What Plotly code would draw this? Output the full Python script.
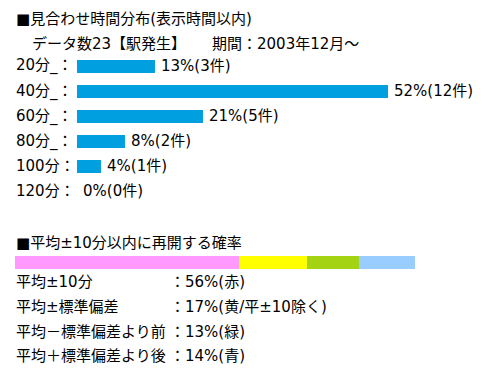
import plotly.graph_objects as go

W, H = 504, 380
OFF = 8  # page body margin
FONT = "DejaVu Sans, Noto Sans CJK JP, sans-serif"
FS = 15

# ---- data ----
title_top = "■見合わせ時間分布(表示時間以内)"
subtitle_a = "データ数23【駅発生】"
subtitle_b = "期間：2003年12月～"
categories = ["20分_：", "40分_：", "60分_：", "80分_：", "100分：", "120分："]
pct = [13, 52, 21, 8, 4, 0]
counts = [3, 12, 5, 2, 1, 0]

title_bottom = "■平均±10分以内に再開する確率"
prob_labels = ["平均±10分", "平均±標準偏差", "平均－標準偏差より前", "平均＋標準偏差より後"]
prob_values = [56, 17, 13, 14]
prob_notes = ["(赤)", "(黄/平±10除く)", "(緑)", "(青)"]
prob_colors = ["#FF99FF", "#FFFF00", "#A3D312", "#99CCFF"]
bar_color = "#00A0E0"


def px_x(p):
    return (p - OFF) / W


def px_y(p):
    return 1 - (p - OFF) / H


fig = go.Figure()

rows = list(range(len(categories)))
fig.add_trace(go.Bar(
    x=pct, y=rows, orientation="h", marker=dict(color=bar_color, line=dict(width=0)),
    width=0.54, xaxis="x", yaxis="y", showlegend=False, hoverinfo="skip",
))

for i, (lab, v) in enumerate(zip(prob_labels, prob_values)):
    fig.add_trace(go.Bar(
        x=[v], y=[0], orientation="h", marker=dict(color=prob_colors[i], line=dict(width=0)),
        width=1, xaxis="x2", yaxis="y2", showlegend=False, hoverinfo="skip",
    ))

ann = []
txt = dict(family=FONT, size=FS, color="#000000")


def add_text(text, x, y, xref="paper", yref="paper", xanchor="left", xshift=0):
    ann.append(dict(text=text, x=x, y=y, xref=xref, yref=yref, xanchor=xanchor,
                    yanchor="middle", showarrow=False, font=txt, xshift=xshift))


add_text(title_top, px_x(14), px_y(19))
add_text(subtitle_a, px_x(30), px_y(44))
add_text(subtitle_b, px_x(210), px_y(44))

for i, (c, p, n) in enumerate(zip(categories, pct, counts)):
    add_text(c, px_x(14), i, yref="y")
    add_text(f"{p}%({n}件)", p, i, xref="x", yref="y", xshift=4)

add_text(title_bottom, px_x(14), px_y(243))
line_y = [282, 307, 332, 356]
for i, (lab, v, note) in enumerate(zip(prob_labels, prob_values, prob_notes)):
    add_text(lab, px_x(14), px_y(line_y[i]))
    add_text(f"：{v}%{note}", px_x(168), px_y(line_y[i]))

# top bar axis: 0% at x=77, ~5.98 px per %
x0 = 77 - OFF
scale = 5.98
fig.update_layout(
    width=W, height=H, margin=dict(l=0, r=0, t=0, b=0),
    paper_bgcolor="white", plot_bgcolor="rgba(0,0,0,0)",
    barmode="stack", bargap=0,
    xaxis=dict(domain=[x0 / W, 1], range=[0, (W - x0) / scale], visible=False, fixedrange=True),
    yaxis=dict(domain=[px_y(203.5), px_y(53.5)], range=[5.5, -0.5], visible=False),
    xaxis2=dict(domain=[(15 - OFF) / W, (415 - OFF) / W], range=[0, 100], visible=False, anchor="y2"),
    yaxis2=dict(domain=[px_y(269), px_y(256)], range=[-0.5, 0.5], visible=False, anchor="x2"),
    annotations=ann,
)

fig.write_html("out.html")
